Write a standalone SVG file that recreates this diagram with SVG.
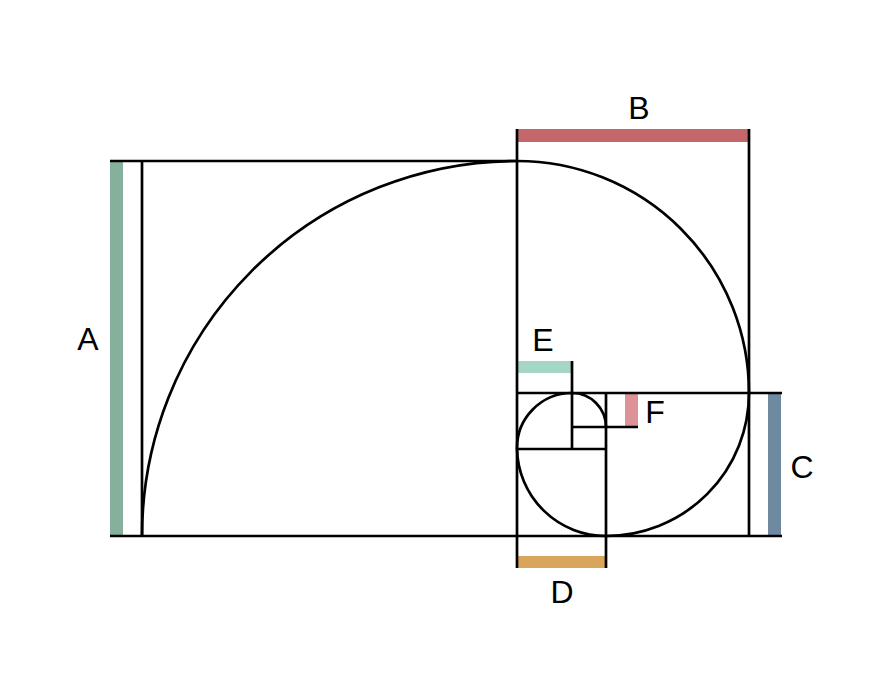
<svg xmlns="http://www.w3.org/2000/svg" width="890" height="699" viewBox="0 0 890 699">
<style>
.ln{fill:none;stroke:#000;stroke-width:2.7;stroke-linecap:butt}
.lb{font-family:"Liberation Sans",Arial,sans-serif;font-size:32px;fill:#000;text-anchor:middle}
</style>
<rect width="890" height="699" fill="#fff"/>
<g id="bars">
<rect id="barA" x="110" y="161" width="13" height="375" fill="#85b09b"/>
<rect id="barB" x="517" y="129" width="232" height="13" fill="#c4676b"/>
<rect id="barC" x="768" y="393" width="13" height="143" fill="#6f8aa0"/>
<rect id="barD" x="517" y="556" width="89" height="12" fill="#d9a55c"/>
<rect id="barE" x="517" y="361" width="55" height="12" fill="#a6d6c6"/>
<rect id="barF" x="625" y="393" width="13" height="34" fill="#dd9298"/>
</g>
<g id="connectors">
<path class="ln" d="M110 161H517M110 536H782M517 393H782M517 449H606M572 427H638"/>
<path class="ln" d="M142 161V536M517 129V568M749 129V536M606 393V568M572 361V449"/>
<path class="ln" d="M142 536A375 375 0 0 1 517 161A232 232 0 0 1 749 393A143 143 0 0 1 606 536A89 89 0 0 1 517 449A55 55 0 0 1 572 393A34 34 0 0 1 606 427"/>
</g>
<g id="labels">
<text class="lb" x="88" y="350">A</text>
<text class="lb" x="639" y="119">B</text>
<text class="lb" x="802" y="478">C</text>
<text class="lb" x="562" y="603">D</text>
<text class="lb" x="543" y="351">E</text>
<text class="lb" x="655" y="423">F</text>
</g>
</svg>
